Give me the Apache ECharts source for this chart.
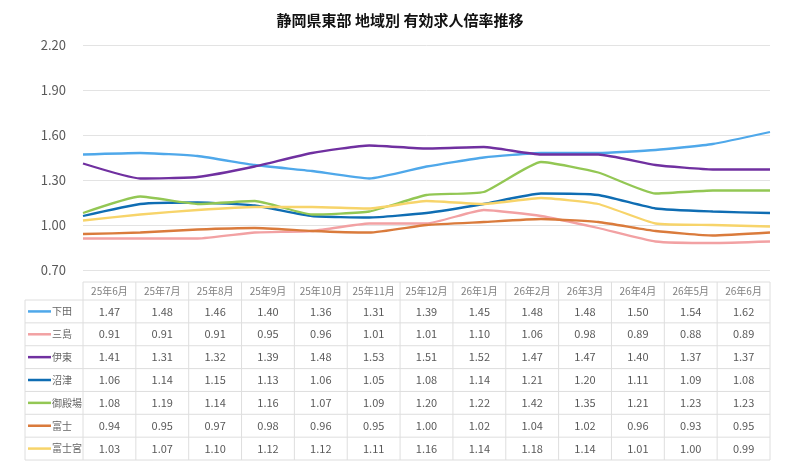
<!doctype html>
<html lang="ja">
<head>
<meta charset="UTF-8">
<title>静岡県東部 地域別 有効求人倍率推移</title>
<script src="https://cdn.jsdelivr.net/npm/echarts@6/dist/echarts.min.js"></script>
<style>
  html, body { margin: 0; padding: 0; background: #fff; }
  #chart { width: 800px; height: 471px; }
</style>
</head>
<body>
<div id="chart"></div>
<script type="text/javascript">
    // 月
    var months = ['25年6月', '25年7月', '25年8月', '25年9月', '25年10月', '25年11月', '25年12月',
        '26年1月', '26年2月', '26年3月', '26年4月', '26年5月', '26年6月'];
    // 地域
    var areas = ['下田', '三島', '伊東', '沼津', '御殿場', '富士', '富士宮'];
    var areaColors = ['#4fa8ea', '#f2a1a3', '#7030a0', '#0f6db3', '#93c754', '#da7b3c', '#f7d46a'];
    // 有効求人倍率
    var shimoda   = [1.47, 1.48, 1.46, 1.40, 1.36, 1.31, 1.39, 1.45, 1.48, 1.48, 1.50, 1.54, 1.62];
    var mishima   = [0.91, 0.91, 0.91, 0.95, 0.96, 1.01, 1.01, 1.10, 1.06, 0.98, 0.89, 0.88, 0.89];
    var ito       = [1.41, 1.31, 1.32, 1.39, 1.48, 1.53, 1.51, 1.52, 1.47, 1.47, 1.40, 1.37, 1.37];
    var numazu    = [1.06, 1.14, 1.15, 1.13, 1.06, 1.05, 1.08, 1.14, 1.21, 1.20, 1.11, 1.09, 1.08];
    var gotemba   = [1.08, 1.19, 1.14, 1.16, 1.07, 1.09, 1.20, 1.22, 1.42, 1.35, 1.21, 1.23, 1.23];
    var fuji      = [0.94, 0.95, 0.97, 0.98, 0.96, 0.95, 1.00, 1.02, 1.04, 1.02, 0.96, 0.93, 0.95];
    var fujinomiya = [1.03, 1.07, 1.10, 1.12, 1.12, 1.11, 1.16, 1.14, 1.18, 1.14, 1.01, 1.00, 0.99];
    var areaData = [shimoda, mishima, ito, numazu, gotemba, fuji, fujinomiya];

    var FONT = '"Noto Sans CJK JP", "Noto Sans", sans-serif';

    // 表の位置
    var tblLeft = 83, tblRight = 770, keyLeft = 25;
    var headTop = 282, headBottom = 300, rowH = 22.86;
    var lineColor = '#dedede';

    var buildTable = function () {
        var els = [];
        var colW = (tblRight - tblLeft) / months.length;
        var tblBottom = headBottom + rowH * areas.length;
        // 横線
        els.push({ type: 'line', shape: { x1: tblLeft, y1: headTop, x2: tblRight, y2: headTop }, style: { stroke: lineColor, lineWidth: 1 } });
        for (var r = 0; r <= areas.length; r++) {
            var y = headBottom + rowH * r;
            els.push({ type: 'line', shape: { x1: keyLeft, y1: y, x2: tblRight, y2: y }, style: { stroke: lineColor, lineWidth: 1 } });
        }
        // 縦線
        els.push({ type: 'line', shape: { x1: keyLeft, y1: headBottom, x2: keyLeft, y2: tblBottom }, style: { stroke: lineColor, lineWidth: 1 } });
        for (var c = 0; c <= months.length; c++) {
            var x = tblLeft + colW * c;
            els.push({ type: 'line', shape: { x1: x, y1: headTop, x2: x, y2: tblBottom }, style: { stroke: lineColor, lineWidth: 1 } });
        }
        // 見出し
        months.forEach(function (m, i) {
            els.push({ type: 'text', style: { text: m, x: tblLeft + colW * (i + 0.5), y: (headTop + headBottom) / 2,
                align: 'center', verticalAlign: 'middle', fill: '#808080', font: '10px ' + FONT } });
        });
        // 各行
        areas.forEach(function (name, r) {
            var cy = headBottom + rowH * (r + 0.5);
            els.push({ type: 'line', shape: { x1: 28, y1: cy, x2: 51, y2: cy }, style: { stroke: areaColors[r], lineWidth: 2.5 } });
            els.push({ type: 'text', style: { text: name, x: 52, y: cy, align: 'left', verticalAlign: 'middle',
                fill: '#666', font: '10px ' + FONT } });
            areaData[r].forEach(function (v, i) {
                els.push({ type: 'text', style: { text: v.toFixed(2), x: tblLeft + colW * (i + 0.5), y: cy,
                    align: 'center', verticalAlign: 'middle', fill: '#595959', font: '11px ' + FONT } });
            });
        });
        return els;
    };

    var myChart = echarts.init(document.getElementById('chart'));
    var option = {
        animation: false,
        backgroundColor: '#fff',
        title: {
            text: '静岡県東部 地域別 有効求人倍率推移',
            left: 'center',
            top: 8,
            textStyle: { fontFamily: FONT, fontSize: 15, fontWeight: 'bold', color: '#111' }
        },
        grid: { left: tblLeft, right: 800 - tblRight, top: 45, bottom: 471 - 270 },
        xAxis: {
            type: 'category',
            data: months,
            boundaryGap: false,
            axisLine: { show: false },
            axisTick: { show: false },
            axisLabel: { show: false }
        },
        yAxis: {
            type: 'value',
            min: 0.7,
            max: 2.2,
            interval: 0.3,
            axisLabel: {
                margin: 17,
                color: '#595959',
                fontSize: 13,
                fontFamily: FONT,
                formatter: function (v) { return v.toFixed(2); }
            },
            splitLine: { lineStyle: { color: '#e3e3e3', width: 1 } }
        },
        series: areas.map(function (name, i) {
            return {
                name: name,
                type: 'line',
                data: areaData[i],
                showSymbol: false,
                symbol: 'none',
                smooth: 0.15,
                lineStyle: { color: areaColors[i], width: 2.3 },
                itemStyle: { color: areaColors[i] }
            };
        }),
        graphic: buildTable()
    };
    myChart.setOption(option);
</script>
</body>
</html>
